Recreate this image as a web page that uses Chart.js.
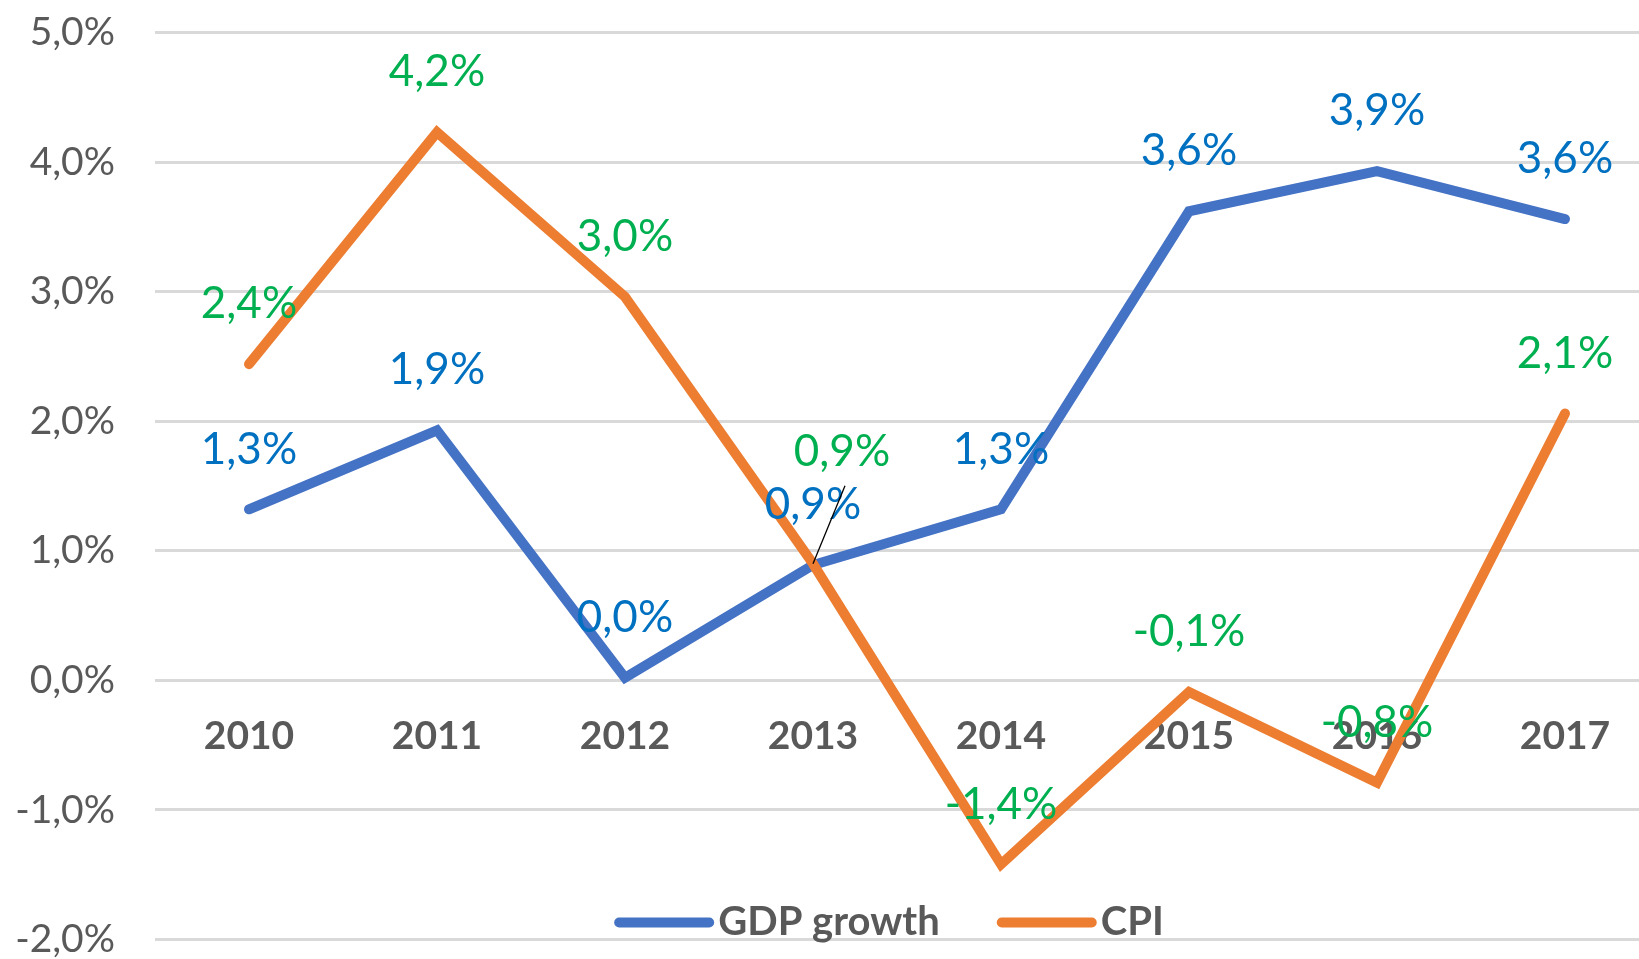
<!DOCTYPE html>
<html>
<head>
<meta charset="utf-8">
<title>GDP growth and CPI</title>
<script src="https://cdn.jsdelivr.net/npm/chart.js@4.4.1/dist/chart.umd.min.js"></script>
<style>
  html, body { margin: 0; padding: 0; background: #fff; overflow: hidden; }
  #frame { width: 1639px; height: 959px; overflow: hidden; }
  #wrap { width: 1659px; height: 1026px; margin-top: -27px; }
</style>
</head>
<body>
<div id="frame"><div id="wrap"><canvas id="growthChart"></canvas></div></div>
<script>
// values
const years = ['2010', '2011', '2012', '2013', '2014', '2015', '2016', '2017'];
const gdpGrowth = [1.32, 1.93, 0.02, 0.89, 1.32, 3.62, 3.93, 3.56];
const cpi = [2.44, 4.23, 2.96, 0.90, -1.42, -0.09, -0.79, 2.06];
const yTickValues = [-2, -1, 0, 1, 2, 3, 4, 5];

const fmt = v => v.toFixed(1).replace('.', ',') + '%';

// label shifts in px, default is straight above the point
const cpiLabelShift = { 3: [29, -112] };
const cpiLeader = { 3: true };

const valueLabels = {
  id: 'valueLabels',
  afterDatasetsDraw(chart) {
    const ctx = chart.ctx;
    ctx.save();
    ctx.font = '44px Lato';
    ctx.textAlign = 'center';
    ctx.textBaseline = 'middle';
    chart.data.datasets.forEach((ds, di) => {
      const meta = chart.getDatasetMeta(di);
      const shifts = ds.labelShift || {};
      const leaders = ds.leader || {};
      meta.data.forEach((pt, i) => {
        const s = shifts[i] || [0, -60];
        const tx = pt.x + s[0], ty = pt.y + s[1];
        ctx.fillStyle = ds.labelColor;
        ctx.fillText(fmt(ds.data[i]), tx, ty);
        if (leaders[i]) {
          ctx.strokeStyle = '#000';
          ctx.lineWidth = 1.3;
          ctx.beginPath();
          ctx.moveTo(pt.x, pt.y);
          ctx.lineTo(tx + 3, ty + 34);
          ctx.stroke();
        }
      });
    });
    ctx.restore();
  }
};

const bottomLegend = {
  id: 'bottomLegend',
  afterDraw(chart) {
    const ctx = chart.ctx;
    const area = chart.chartArea;
    ctx.save();
    ctx.font = 'bold 40px Lato';
    ctx.textBaseline = 'middle';
    ctx.textAlign = 'left';
    const items = chart.data.datasets.map(ds => ({
      label: ds.label, color: ds.borderColor, w: ctx.measureText(ds.label).width
    }));
    let total = 0;
    items.forEach((it, i) => { total += 104 + it.w + (i < items.length - 1 ? 57 : 0); });
    let x = (area.left + area.right) / 2 - 18 - total / 2;
    const y = area.bottom - 17;
    items.forEach(it => {
      ctx.strokeStyle = it.color;
      ctx.lineWidth = 10;
      ctx.lineCap = 'round';
      ctx.beginPath();
      ctx.moveTo(x + 5, y);
      ctx.lineTo(x + 95, y);
      ctx.stroke();
      ctx.fillStyle = '#595959';
      ctx.fillText(it.label, x + 104, y);
      x += 104 + it.w + 57;
    });
    ctx.restore();
  }
};

const ctx = document.getElementById('growthChart').getContext('2d');

const growthChart = new Chart(ctx, {
  type: 'line',
  data: {
    labels: years,
    datasets: [{
      label: 'GDP growth',
      data: gdpGrowth,
      borderColor: '#4472C4',
      backgroundColor: '#4472C4',
      labelColor: '#0070C0',
      borderWidth: 10,
      borderCapStyle: 'round',
      pointRadius: 0,
      tension: 0,
      order: 1
    }, {
      label: 'CPI',
      data: cpi,
      borderColor: '#ED7D31',
      backgroundColor: '#ED7D31',
      labelColor: '#00B050',
      labelShift: cpiLabelShift,
      leader: cpiLeader,
      borderWidth: 10,
      borderCapStyle: 'round',
      pointRadius: 0,
      tension: 0,
      order: 0
    }]
  },
  options: {
    responsive: true,
    maintainAspectRatio: false,
    animation: false,
    layout: { padding: 0 },
    plugins: {
      legend: { display: false },
      tooltip: { enabled: false }
    },
    scales: {
      x: {
        position: { y: 0 },
        offset: true,
        afterFit: scale => { scale.height = 0; },
        grid: { display: false },
        border: { display: false },
        ticks: {
          color: '#595959',
          padding: 25,
          font: { family: 'Lato', size: 39, weight: 'bold' }
        }
      },
      y: {
        min: -2,
        max: 5,
        afterBuildTicks: scale => { scale.ticks = yTickValues.map(v => ({ value: v })); },
        afterFit: scale => { scale.width = 155; },
        grid: { color: '#D9D9D9', lineWidth: 3, drawTicks: false },
        border: { display: false },
        ticks: {
          color: '#595959',
          padding: 40,
          font: { family: 'Lato', size: 39, lineHeight: 1 },
          callback: v => fmt(v)
        }
      }
    }
  },
  plugins: [valueLabels, bottomLegend]
});
</script>
</body>
</html>
